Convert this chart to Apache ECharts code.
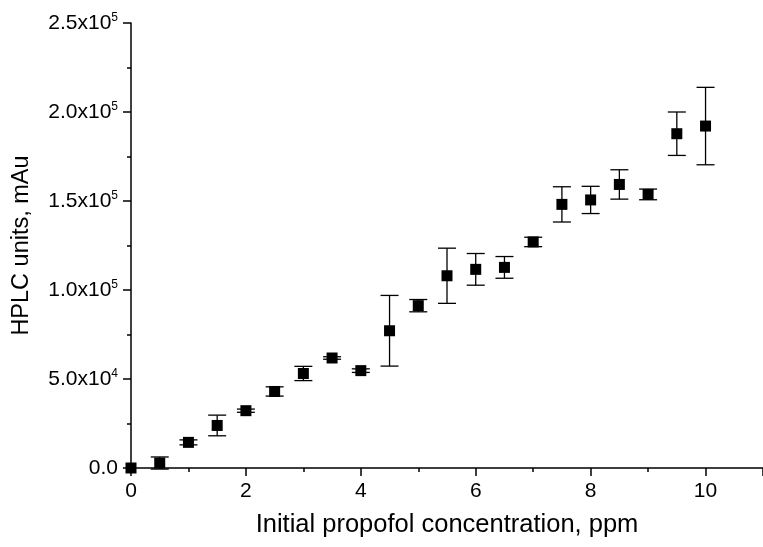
<!DOCTYPE html>
<html>
<head>
<meta charset="utf-8">
<script src="https://cdn.jsdelivr.net/npm/echarts@6/dist/echarts.min.js"></script>
<style>
html,body{margin:0;padding:0;background:#fff;}
#chart{width:763px;height:547px;}
</style>
</head>
<body>
<div id="chart"></div>
<script>
// Data
var concentration = [0, 0.5, 1, 1.5, 2, 2.5, 3, 3.5, 4, 4.5, 5, 5.5, 6, 6.5, 7, 7.5, 8, 8.5, 9, 9.5, 10];
var hplcMean = [0, 2800, 14400, 23900, 32200, 43000, 53100, 61800, 54700, 77100, 91200, 108000, 111600, 112700, 127000, 148100, 150600, 159300, 153700, 187800, 192100];
var hplcErr = [0, 3400, 1400, 5800, 900, 2600, 4000, 700, 1000, 19850, 3450, 15500, 8900, 6100, 2650, 9900, 7650, 8250, 3000, 12200, 21750];

var xTitle = 'Initial propofol concentration, ppm';
var yTitle = 'HPLC units, mAu';

var FONT = 'Arial, "Liberation Sans", sans-serif';

var scatterData = concentration.map(function (x, i) { return [x, hplcMean[i]]; });
var errData = concentration.map(function (x, i) {
  return [x, hplcMean[i] - hplcErr[i], hplcMean[i] + hplcErr[i]];
}).filter(function (d, i) { return hplcErr[i] > 0; });

function yFmt(v) {
  if (v === 0) return '{m|0.0}';
  var e = Math.floor(Math.log10(v) + 1e-9);
  var m = (v / Math.pow(10, e)).toFixed(1);
  return '{m|' + m + 'x10}{s|' + e + '}';
}

var chart = echarts.init(document.getElementById('chart'), null, {renderer: 'canvas'});
chart.setOption({
  animation: false,
  backgroundColor: '#fff',
  grid: {left: 131, top: 23, width: 636, height: 445},
  xAxis: {
    type: 'value', min: 0, max: 11, interval: 2,
    name: xTitle, nameLocation: 'middle', nameGap: 44,
    nameTextStyle: {fontFamily: FONT, fontSize: 25.5, color: '#000'},
    axisLine: {lineStyle: {color: '#000', width: 1.5}},
    axisTick: {inside: false, length: 8, lineStyle: {color: '#000', width: 1.5}},
    minorTick: {show: true, splitNumber: 2, length: 4, lineStyle: {color: '#000', width: 1.5}},
    axisLabel: {fontFamily: FONT, fontSize: 21, color: '#000', margin: 13, showMaxLabel: false},
    splitLine: {show: false}
  },
  yAxis: {
    type: 'value', min: 0, max: 250000, interval: 50000,
    name: yTitle, nameLocation: 'middle', nameGap: 97, nameRotate: 90,
    nameTextStyle: {fontFamily: FONT, fontSize: 23.5, color: '#000'},
    axisLine: {lineStyle: {color: '#000', width: 1.5}},
    axisTick: {inside: false, length: 8, lineStyle: {color: '#000', width: 1.5}},
    minorTick: {show: true, splitNumber: 2, length: 4, lineStyle: {color: '#000', width: 1.5}},
    axisLabel: {
      margin: 13, formatter: yFmt,
      rich: {
        m: {fontFamily: FONT, fontSize: 21, color: '#000', lineHeight: 22},
        s: {fontFamily: FONT, fontSize: 12, color: '#000', verticalAlign: 'top', lineHeight: 11}
      }
    },
    splitLine: {show: false}
  },
  series: [
    {
      type: 'custom',
      data: errData,
      encode: {x: 0, y: [1, 2]},
      z: 2,
      renderItem: function (params, api) {
        var x = api.value(0), lo = api.value(1), hi = api.value(2);
        var pHi = api.coord([x, hi]);
        var pLo = api.coord([x, lo]);
        var w = 9;
        var st = {stroke: '#000', lineWidth: 1.3};
        return {
          type: 'group',
          children: [
            {type: 'line', shape: {x1: pHi[0], y1: pHi[1], x2: pLo[0], y2: pLo[1]}, style: st},
            {type: 'line', shape: {x1: pHi[0] - w, y1: pHi[1], x2: pHi[0] + w, y2: pHi[1]}, style: st},
            {type: 'line', shape: {x1: pLo[0] - w, y1: pLo[1], x2: pLo[0] + w, y2: pLo[1]}, style: st}
          ]
        };
      }
    },
    {
      type: 'scatter',
      data: scatterData,
      symbol: 'rect',
      symbolSize: 11,
      z: 3,
      itemStyle: {color: '#000', opacity: 1}
    }
  ]
});
</script>
</body>
</html>
